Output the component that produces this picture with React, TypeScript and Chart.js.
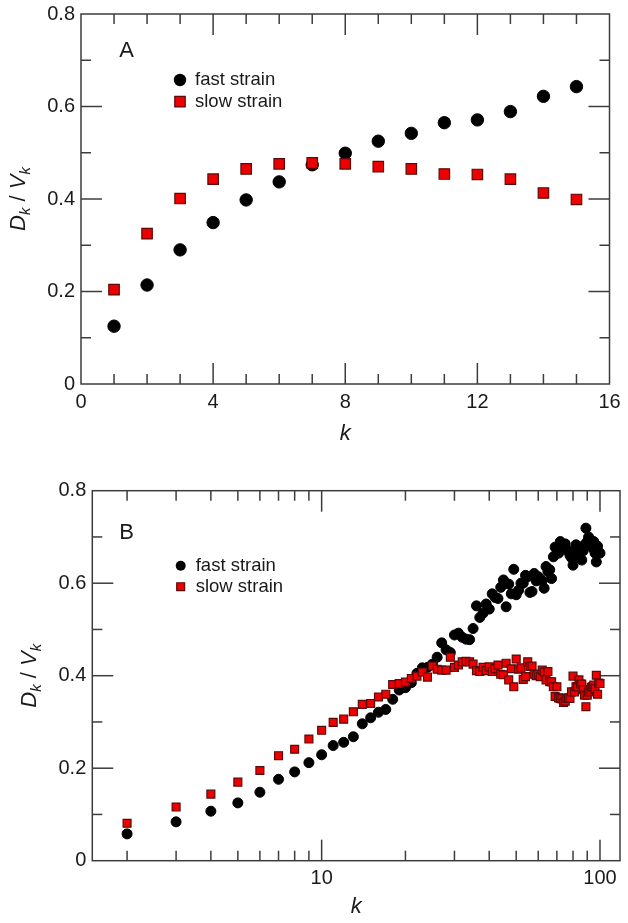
import React, { useEffect, useRef } from 'react';
import { Chart, registerables } from 'chart.js';

Chart.register(...registerables);

// ---------- Data ----------
const kA = [1, 2, 3, 4, 5, 6, 7, 8, 9, 10, 11, 12, 13, 14, 15];
const fastA = [0.125, 0.214, 0.290, 0.349, 0.398, 0.437, 0.474, 0.499, 0.525, 0.542, 0.565, 0.571, 0.589, 0.622, 0.643];
const slowA = [0.204, 0.325, 0.401, 0.443, 0.465, 0.476, 0.478, 0.476, 0.470, 0.465, 0.454, 0.453, 0.443, 0.413, 0.399];

const kB = [
  2, 3, 4, 5, 6, 7, 8, 9, 10, 11,
  12, 13, 14, 15, 16, 17, 18, 19, 20, 21,
  22, 23, 24, 25, 26, 27, 28, 29, 30, 31,
  32, 33, 34, 35, 36, 37, 38, 39, 40, 41,
  42, 43, 44, 45, 46, 47, 48, 49, 50, 51,
  52, 53, 54, 55, 56, 57, 58, 59, 60, 61,
  62, 63, 64, 65, 66, 67, 68, 69, 70, 71,
  72, 73, 74, 75, 76, 77, 78, 79, 80, 81,
  82, 83, 84, 85, 86, 87, 88, 89, 90, 91,
  92, 93, 94, 95, 96, 97, 98, 99, 100,
];
const fastB = [
  0.058, 0.084, 0.107, 0.125, 0.148, 0.176, 0.192, 0.212, 0.229, 0.249,
  0.256, 0.268, 0.296, 0.309, 0.321, 0.327, 0.349, 0.369, 0.374, 0.385,
  0.405, 0.417, 0.418, 0.425, 0.440, 0.471, 0.456, 0.450, 0.488, 0.492,
  0.483, 0.479, 0.478, 0.502, 0.551, 0.526, 0.535, 0.555, 0.544, 0.577,
  0.569, 0.567, 0.591, 0.607, 0.549, 0.598, 0.577, 0.630, 0.575, 0.585,
  0.600, 0.600, 0.617, 0.614, 0.580, 0.582, 0.621, 0.605, 0.614, 0.608,
  0.605, 0.589, 0.636, 0.625, 0.629, 0.610, 0.657, 0.678, 0.665, 0.665,
  0.690, 0.683, 0.680, 0.685, 0.672, 0.670, 0.660, 0.655, 0.639, 0.665,
  0.683, 0.679, 0.668, 0.654, 0.650, 0.670, 0.683, 0.719, 0.690, 0.700,
  0.690, 0.680, 0.676, 0.690, 0.665, 0.646, 0.680, 0.666, 0.665,
];
const slowB = [
  0.081, 0.116, 0.144, 0.170, 0.195, 0.227, 0.241, 0.263, 0.282, 0.299,
  0.306, 0.322, 0.338, 0.340, 0.354, 0.360, 0.381, 0.383, 0.386, 0.394,
  0.399, 0.408, 0.397, 0.421, 0.414, 0.412, 0.412, 0.440, 0.418, 0.423,
  0.430, 0.431, 0.430, 0.425, 0.411, 0.409, 0.418, 0.411, 0.419, 0.409,
  0.415, 0.423, 0.403, 0.402, 0.427, 0.391, 0.415, 0.376, 0.436, 0.414,
  0.417, 0.392, 0.398, 0.430, 0.420, 0.421, 0.403, 0.400, 0.403, 0.398,
  0.412, 0.408, 0.391, 0.409, 0.387, 0.387, 0.376, 0.355, 0.376, 0.352,
  0.351, 0.350, 0.342, 0.345, 0.351, 0.352, 0.351, 0.365, 0.399, 0.365,
  0.376, 0.376, 0.391, 0.382, 0.382, 0.370, 0.358, 0.333, 0.358, 0.365,
  0.370, 0.375, 0.376, 0.380, 0.372, 0.401, 0.360, 0.384, 0.383,
];

const seriesNames = ['fast strain', 'slow strain'];
const panelLabels = ['A', 'B'];

const xMajorA = [0, 4, 8, 12, 16];
const xMinorA = [1, 2, 3, 5, 6, 7, 9, 10, 11, 13, 14, 15];
const xMajorB = [10, 100];
const xMinorB = [2, 3, 4, 5, 6, 7, 8, 9, 20, 30, 40, 50, 60, 70, 80, 90];
const yMajor = [0, 0.2, 0.4, 0.6, 0.8];
const yMinor = [0.1, 0.3, 0.5, 0.7];

// ---------- Styles ----------
const FAMILY = '"Liberation Sans", Arial, Helvetica, sans-serif';
const AXIS_COLOR = '#3c3c3c';
const TEXT_COLOR = '#1a1a1a';
const RED = '#ee0000';
const RED_BORDER = '#5a0a0a';

type PanelCfg = {
  id: string;
  top: number;
  height: number;
  padTop: number;
  padRight: number;
  yWidth: number;
  xHeight: number;
  titlePadBottom: number;
  logX: boolean;
  xMin: number;
  xMax: number;
  xMajor: number[];
  xMinor: number[];
  ks: number[];
  fast: number[];
  slow: number[];
  rFast: number;
  rSlow: number;
  label: string;
  labelDX: number;
  labelDY: number;
  legDX: number;
  legDY1: number;
  legDY2: number;
};

function drawYTitle(ctx: CanvasRenderingContext2D, x: number, y: number) {
  const parts = [
    { t: 'D', f: `italic 22px ${FAMILY}`, dy: 0 },
    { t: 'k', f: `italic 15px ${FAMILY}`, dy: 5 },
    { t: ' / ', f: `22px ${FAMILY}`, dy: 0 },
    { t: 'V', f: `italic 22px ${FAMILY}`, dy: 0 },
    { t: 'k', f: `italic 15px ${FAMILY}`, dy: 5 },
  ];
  ctx.save();
  ctx.translate(x, y);
  ctx.rotate(-Math.PI / 2);
  let total = 0;
  for (const p of parts) {
    ctx.font = p.f;
    total += ctx.measureText(p.t).width;
  }
  let cx = -total / 2;
  ctx.fillStyle = TEXT_COLOR;
  ctx.textAlign = 'left';
  ctx.textBaseline = 'alphabetic';
  for (const p of parts) {
    ctx.font = p.f;
    ctx.fillText(p.t, cx, p.dy);
    cx += ctx.measureText(p.t).width;
  }
  ctx.restore();
}

function makeDecor(cfg: PanelCfg) {
  return {
    id: 'decor' + cfg.id,
    beforeDatasetsDraw(chart: any) {
      const { ctx, chartArea } = chart;
      const { left, right, top, bottom } = chartArea;
      const xs = chart.scales.x;
      const ys = chart.scales.y;
      ctx.save();
      ctx.strokeStyle = AXIS_COLOR;
      ctx.lineWidth = 1.5;
      ctx.strokeRect(left, top, right - left, bottom - top);
      const line = (x1: number, y1: number, x2: number, y2: number) => {
        ctx.beginPath();
        ctx.moveTo(x1, y1);
        ctx.lineTo(x2, y2);
        ctx.stroke();
      };
      const xTick = (v: number, len: number) => {
        const px = xs.getPixelForValue(v);
        if (px <= left + 0.5 || px >= right - 0.5) return;
        line(px, bottom, px, bottom - len);
        line(px, top, px, top + len);
      };
      const yTick = (v: number, len: number) => {
        const py = ys.getPixelForValue(v);
        if (py <= top + 0.5 || py >= bottom - 0.5) return;
        line(left, py, left + len, py);
        line(right, py, right - len, py);
      };
      cfg.xMajor.forEach((v) => xTick(v, 21));
      cfg.xMinor.forEach((v) => xTick(v, 10));
      yMajor.forEach((v) => yTick(v, 21));
      yMinor.forEach((v) => yTick(v, 10));
      ctx.restore();

      drawYTitle(ctx, left - 56, (top + bottom) / 2);
    },
    afterDatasetsDraw(chart: any) {
      const { ctx, chartArea } = chart;
      const { left, top } = chartArea;
      ctx.save();
      // panel letter
      ctx.fillStyle = TEXT_COLOR;
      ctx.font = `22px ${FAMILY}`;
      ctx.textAlign = 'center';
      ctx.textBaseline = 'middle';
      ctx.fillText(cfg.label, left + cfg.labelDX, top + cfg.labelDY);
      // legend
      const mx = left + cfg.legDX;
      const y1 = top + cfg.legDY1;
      const y2 = top + cfg.legDY2;
      ctx.beginPath();
      ctx.arc(mx, y1, cfg.rFast, 0, Math.PI * 2);
      ctx.fillStyle = '#000';
      ctx.fill();
      const s = Math.SQRT1_2 * cfg.rSlow;
      ctx.fillStyle = RED;
      ctx.strokeStyle = RED_BORDER;
      ctx.lineWidth = 1.2;
      ctx.beginPath();
      ctx.rect(mx - s, y2 - s, 2 * s, 2 * s);
      ctx.fill();
      ctx.stroke();
      ctx.fillStyle = TEXT_COLOR;
      ctx.font = `18.5px ${FAMILY}`;
      ctx.textAlign = 'left';
      ctx.textBaseline = 'middle';
      ctx.fillText(seriesNames[0], mx + 15, y1);
      ctx.fillText(seriesNames[1], mx + 15, y2);
      ctx.restore();
    },
  };
}

function Panel({ cfg }: { cfg: PanelCfg }) {
  const ref = useRef<HTMLCanvasElement | null>(null);
  useEffect(() => {
    if (!ref.current) return;
    const fastPts = cfg.ks.map((k, i) => ({ x: k, y: cfg.fast[i] }));
    const slowPts = cfg.ks.map((k, i) => ({ x: k, y: cfg.slow[i] }));
    const tickFont = { family: FAMILY, size: 20 };
    const chart = new Chart(ref.current, {
      type: 'scatter',
      data: {
        datasets: [
          {
            label: seriesNames[0],
            data: fastPts,
            pointStyle: 'circle',
            pointRadius: cfg.rFast,
            backgroundColor: '#000',
            borderColor: '#000',
            borderWidth: 1,
            order: 1,
          },
          {
            label: seriesNames[1],
            data: slowPts,
            pointStyle: 'rect',
            pointRadius: cfg.rSlow,
            backgroundColor: RED,
            borderColor: RED_BORDER,
            borderWidth: 1.2,
            order: 0,
          },
        ],
      },
      options: {
        responsive: false,
        animation: false,
        events: [],
        layout: { padding: { top: cfg.padTop, right: cfg.padRight, left: 0, bottom: 0 } },
        plugins: {
          legend: { display: false },
          tooltip: { enabled: false },
          title: { display: false },
        },
        scales: {
          x: {
            type: cfg.logX ? 'logarithmic' : 'linear',
            min: cfg.xMin,
            max: cfg.xMax,
            grid: { display: false, drawTicks: false },
            border: { display: false },
            ticks: {
              font: tickFont,
              color: TEXT_COLOR,
              padding: 6,
              maxRotation: 0,
              autoSkip: false,
              callback: (v: any) => String(v),
            },
            afterBuildTicks: (scale: any) => {
              scale.ticks = cfg.xMajor.map((v) => ({ value: v }));
            },
            afterFit: (scale: any) => {
              scale.height = cfg.xHeight;
            },
            title: {
              display: true,
              text: 'k',
              color: TEXT_COLOR,
              font: { family: FAMILY, size: 22, style: 'italic' },
              padding: { top: 0, bottom: cfg.titlePadBottom },
            },
          },
          y: {
            type: 'linear',
            min: 0,
            max: 0.8,
            grid: { display: false, drawTicks: false },
            border: { display: false },
            ticks: {
              font: tickFont,
              color: TEXT_COLOR,
              padding: 6,
              stepSize: 0.2,
            },
            afterBuildTicks: (scale: any) => {
              scale.ticks = yMajor.map((v) => ({ value: v }));
            },
            afterFit: (scale: any) => {
              scale.width = cfg.yWidth;
            },
          },
        },
      } as any,
      plugins: [makeDecor(cfg)],
    });
    return () => chart.destroy();
  }, [cfg]);
  return (
    <canvas
      ref={ref}
      width={628}
      height={cfg.height}
      style={{ position: 'absolute', left: 0, top: cfg.top, width: 628, height: cfg.height }}
    />
  );
}

const panelA: PanelCfg = {
  id: 'A',
  top: -20,
  height: 480,
  padTop: 34,
  padRight: 18.5,
  yWidth: 81,
  xHeight: 76,
  titlePadBottom: 12.8,
  logX: false,
  xMin: 0,
  xMax: 16,
  xMajor: xMajorA,
  xMinor: xMinorA,
  ks: kA,
  fast: fastA,
  slow: slowA,
  rFast: 6.2,
  rSlow: 7.4,
  label: panelLabels[0],
  labelDX: 45.7,
  labelDY: 36.7,
  legDX: 99,
  legDY1: 66,
  legDY2: 87.7,
};

const panelB: PanelCfg = {
  id: 'B',
  top: 460,
  height: 463,
  padTop: 30.7,
  padRight: 8,
  yWidth: 92.3,
  xHeight: 62.3,
  titlePadBottom: 3.1,
  logX: true,
  xMin: 1.5,
  xMax: 118,
  xMajor: xMajorB,
  xMinor: xMinorB,
  ks: kB,
  fast: fastB,
  slow: slowB,
  rFast: 5,
  rSlow: 5.6,
  label: panelLabels[1],
  labelDX: 34.2,
  labelDY: 41.8,
  legDX: 88.4,
  legDY1: 75,
  legDY2: 96,
};

export default function App() {
  return (
    <div
      style={{
        position: 'fixed',
        left: 0,
        top: 0,
        width: 628,
        height: 923,
        background: '#fff',
        overflow: 'hidden',
      }}
    >
      <Panel cfg={panelA} />
      <Panel cfg={panelB} />
    </div>
  );
}
